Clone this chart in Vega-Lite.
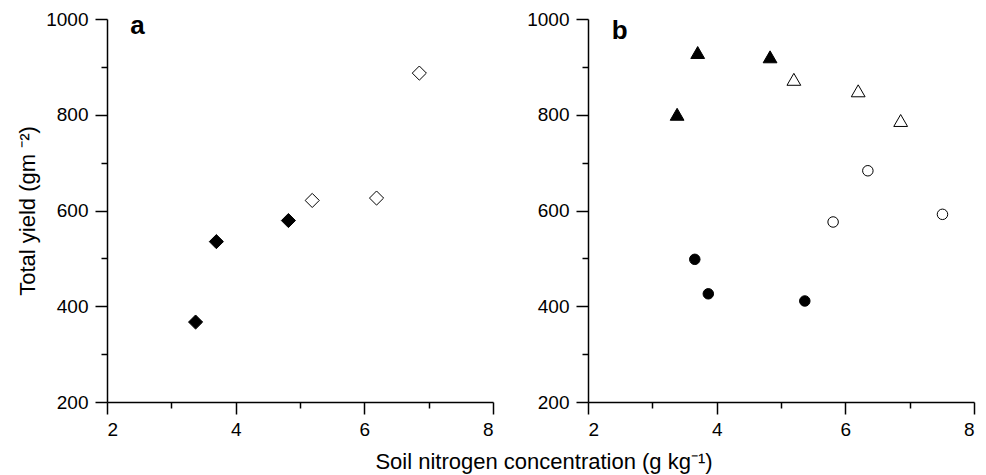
{
  "$schema": "https://vega.github.io/schema/vega-lite/v6.json",
  "padding": {"left": 16, "top": 10, "right": 5, "bottom": 5},
  "bounds": "flush",
  "spacing": 95,
  "config": {
    "view": {"stroke": null},
    "font": "Liberation Sans",
    "axis": {
      "grid": false,
      "domainColor": "black",
      "domainWidth": 1.5,
      "tickColor": "black",
      "tickWidth": 1.5,
      "labelColor": "black",
      "labelFont": "Liberation Sans",
      "labelFontSize": 19,
      "titleFont": "Liberation Sans",
      "titleFontSize": 22,
      "titleFontWeight": "normal",
      "titleColor": "black",
      "labelOverlap": false
    }
  },
  "datasets": {
    "points": [
      {"panel": "a", "type": "D", "group": "g1", "n": 3.377, "yield": 367},
      {"panel": "a", "type": "D", "group": "g1", "n": 3.70, "yield": 535},
      {"panel": "a", "type": "D", "group": "g1", "n": 4.82, "yield": 579},
      {"panel": "a", "type": "D", "group": "g2", "n": 5.19, "yield": 621},
      {"panel": "a", "type": "D", "group": "g2", "n": 6.19, "yield": 626},
      {"panel": "a", "type": "D", "group": "g2", "n": 6.855, "yield": 887},
      {"panel": "b", "type": "T", "group": "g1", "n": 3.385, "yield": 801},
      {"panel": "b", "type": "T", "group": "g1", "n": 3.705, "yield": 930},
      {"panel": "b", "type": "T", "group": "g1", "n": 4.83, "yield": 921},
      {"panel": "b", "type": "T", "group": "g2", "n": 5.20, "yield": 874},
      {"panel": "b", "type": "T", "group": "g2", "n": 6.20, "yield": 850},
      {"panel": "b", "type": "T", "group": "g2", "n": 6.86, "yield": 788},
      {"panel": "b", "type": "C", "group": "g1", "n": 3.66, "yield": 498},
      {"panel": "b", "type": "C", "group": "g1", "n": 3.87, "yield": 426},
      {"panel": "b", "type": "C", "group": "g1", "n": 5.37, "yield": 411},
      {"panel": "b", "type": "C", "group": "g2", "n": 5.81, "yield": 576},
      {"panel": "b", "type": "C", "group": "g2", "n": 6.35, "yield": 683},
      {"panel": "b", "type": "C", "group": "g2", "n": 7.51, "yield": 592}
    ],
    "labels": [
      {"panel": "a", "label": "a", "n": 2.36, "yield": 968},
      {"panel": "b", "label": "b", "n": 2.37, "yield": 958}
    ]
  },
  "hconcat": [
    {
      "width": 386,
      "height": 383,
      "encoding": {
        "x": {
          "field": "n", "type": "quantitative",
          "scale": {"domain": [2, 8], "nice": false, "zero": false},
          "axis": {
            "values": [2, 3, 4, 5, 6, 7, 8],
            "labelExpr": "datum.value % 2 === 0 ? datum.label : ''",
            "tickSize": {"condition": {"test": "datum.value % 2 === 0", "value": 12}, "value": 6},
            "labelPadding": 6,
            "title": "Soil nitrogen concentration (g kg⁻¹)",
            "titleX": 436.5,
            "titleY": 66,
            "titleAlign": "center",
            "titleBaseline": "alphabetic"
          }
        },
        "y": {
          "field": "yield", "type": "quantitative",
          "scale": {"domain": [200, 1000], "nice": false, "zero": false},
          "axis": {
            "values": [200, 300, 400, 500, 600, 700, 800, 900, 1000],
            "labelExpr": "datum.value % 200 === 0 ? datum.label : ''",
            "tickSize": {"condition": {"test": "datum.value % 200 === 0", "value": 12}, "value": 6},
            "labelPadding": 7,
            "format": "d",
            "title": "Total yield (gm ⁻²)",
            "titlePadding": 6
          }
        }
      },
      "layer": [
        {
          "data": {"name": "points"},
          "transform": [{"filter": "datum.panel === 'a'"}],
          "mark": {"type": "point", "shape": "diamond", "size": 200, "stroke": "black", "strokeWidth": 1, "opacity": 1, "fillOpacity": 1},
          "encoding": {
            "fill": {"field": "group", "type": "nominal", "scale": {"domain": ["g1", "g2"], "range": ["black", "white"]}, "legend": null}
          }
        },
        {
          "data": {"name": "labels"},
          "transform": [{"filter": "datum.panel === 'a'"}],
          "mark": {"type": "text", "fontSize": 26, "fontWeight": "bold", "align": "left", "baseline": "alphabetic", "color": "black"},
          "encoding": {"text": {"field": "label"}}
        }
      ]
    },
    {
      "width": 386,
      "height": 383,
      "encoding": {
        "x": {
          "field": "n", "type": "quantitative",
          "scale": {"domain": [2, 8], "nice": false, "zero": false},
          "axis": {
            "values": [2, 3, 4, 5, 6, 7, 8],
            "labelExpr": "datum.value % 2 === 0 ? datum.label : ''",
            "tickSize": {"condition": {"test": "datum.value % 2 === 0", "value": 12}, "value": 6},
            "labelPadding": 6,
            "title": null
          }
        },
        "y": {
          "field": "yield", "type": "quantitative",
          "scale": {"domain": [200, 1000], "nice": false, "zero": false},
          "axis": {
            "values": [200, 300, 400, 500, 600, 700, 800, 900, 1000],
            "labelExpr": "datum.value % 200 === 0 ? datum.label : ''",
            "tickSize": {"condition": {"test": "datum.value % 200 === 0", "value": 12}, "value": 6},
            "labelPadding": 7,
            "format": "d",
            "title": null
          }
        }
      },
      "layer": [
        {
          "data": {"name": "points"},
          "transform": [{"filter": "datum.panel === 'b' && datum.type === 'T'"}],
          "mark": {"type": "point", "shape": "triangle-up", "size": 190, "stroke": "black", "strokeWidth": 1, "opacity": 1, "fillOpacity": 1},
          "encoding": {
            "fill": {"field": "group", "type": "nominal", "scale": {"domain": ["g1", "g2"], "range": ["black", "white"]}, "legend": null}
          }
        },
        {
          "data": {"name": "points"},
          "transform": [{"filter": "datum.panel === 'b' && datum.type === 'C'"}],
          "mark": {"type": "point", "shape": "circle", "size": 110, "stroke": "black", "strokeWidth": 1, "opacity": 1, "fillOpacity": 1},
          "encoding": {
            "fill": {"field": "group", "type": "nominal", "scale": {"domain": ["g1", "g2"], "range": ["black", "white"]}, "legend": null}
          }
        },
        {
          "data": {"name": "labels"},
          "transform": [{"filter": "datum.panel === 'b'"}],
          "mark": {"type": "text", "fontSize": 26, "fontWeight": "bold", "align": "left", "baseline": "alphabetic", "color": "black"},
          "encoding": {"text": {"field": "label"}}
        }
      ]
    }
  ]
}
